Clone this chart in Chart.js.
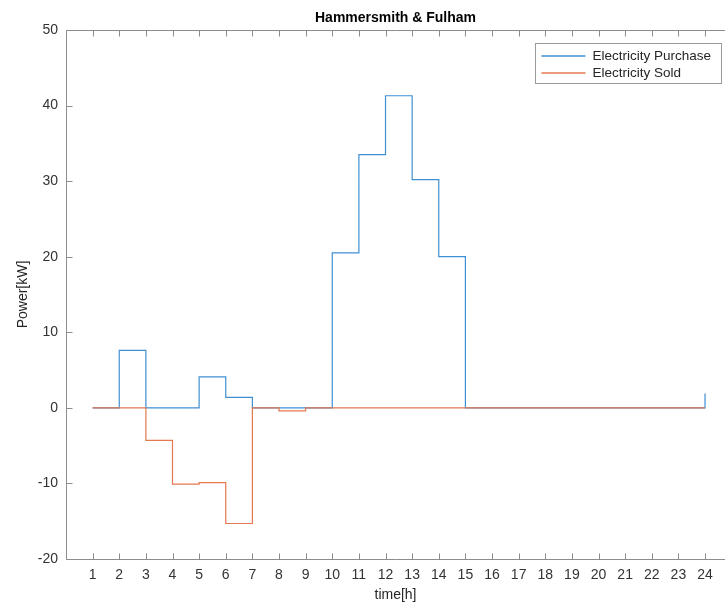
<!DOCTYPE html>
<html>
<head>
<meta charset="utf-8">
<script src="https://cdn.jsdelivr.net/npm/chart.js@4.4.1/dist/chart.umd.min.js"></script>
<style>
  html, body { margin: 0; padding: 0; background: #ffffff; }
  #wrap { width: 725px; height: 605px; }
</style>
</head>
<body>
<div id="wrap"><canvas id="c" width="725" height="605"></canvas></div>
<script>
// ---- data ----
const hours = [1, 2, 3, 4, 5, 6, 7, 8, 9, 10, 11, 12, 13, 14, 15, 16, 17, 18, 19, 20, 21, 22, 23, 24];
const electricityPurchase = [0, 7.6, 0, 0, 4.1, 1.4, 0, 0, 0, 20.5, 33.5, 41.3, 30.2, 20.0, 0, 0, 0, 0, 0, 0, 0, 0, 0, 1.9];
const electricitySold = [0, 0, -4.3, -10.1, -9.9, -15.3, 0, -0.4, 0, 0, 0, 0, 0, 0, 0, 0, 0, 0, 0, 0, 0, 0, 0, 0];
const yTickValues = [-20, -10, 0, 10, 20, 30, 40, 50];
const seriesNames = ['Electricity Purchase', 'Electricity Sold'];
const chartTitle = 'Hammersmith & Fulham';
const xTitle = 'time[h]';
const yTitle = 'Power[kW]';

const BLUE = '#3f90d3';
const ORANGE = '#e4784f';
const FONT = "'Liberation Sans', Arial, Helvetica, sans-serif";

const matlabAxes = {
  id: 'matlabAxes',
  afterDraw(chart) {
    const { ctx, chartArea: a, scales } = chart;
    const x = scales.x, y = scales.y;
    ctx.save();
    ctx.strokeStyle = '#8c8c8c';
    ctx.lineWidth = 1;
    const L = Math.round(a.left) + 0.5;
    const T = Math.round(a.top) + 0.5;
    const B = Math.round(a.bottom) + 0.5;
    const R = a.right;
    ctx.beginPath();
    ctx.moveTo(R, T); ctx.lineTo(L, T); ctx.lineTo(L, B); ctx.lineTo(R, B);
    hours.forEach(v => {
      const px = Math.round(x.getPixelForValue(v)) + 0.5;
      ctx.moveTo(px, B); ctx.lineTo(px, B - 6);
      ctx.moveTo(px, T); ctx.lineTo(px, T + 6);
    });
    yTickValues.forEach(v => {
      const py = Math.round(y.getPixelForValue(v)) + 0.5;
      ctx.moveTo(L, py); ctx.lineTo(L + 6, py);
    });
    ctx.stroke();

    // legend box (MATLAB style, upper right)
    const bw = 186, bh = 40;
    const bx = Math.round(a.right - 190) + 0.5;
    const by = Math.round(a.top + 13) + 0.5;
    ctx.fillStyle = '#ffffff';
    ctx.fillRect(bx, by, bw, bh);
    ctx.strokeStyle = '#9a9a9a';
    ctx.strokeRect(bx, by, bw, bh);
    const colors = [BLUE, ORANGE];
    ctx.font = '13.5px ' + FONT;
    ctx.textBaseline = 'middle';
    ctx.textAlign = 'left';
    seriesNames.forEach((name, i) => {
      const ly = Math.round(by + 12 + i * 17.5);
      ctx.strokeStyle = colors[i];
      ctx.lineWidth = 1.3;
      ctx.beginPath();
      ctx.moveTo(bx + 6, ly); ctx.lineTo(bx + 50, ly);
      ctx.stroke();
      ctx.fillStyle = '#262626';
      ctx.fillText(name, bx + 57, ly);
    });
    ctx.restore();
  }
};

new Chart(document.getElementById('c'), {
  type: 'line',
  data: {
    datasets: [
      {
        label: seriesNames[1],
        data: hours.map((h, i) => ({ x: h, y: electricitySold[i] })),
        borderColor: ORANGE,
        borderWidth: 1.2,
        stepped: 'before',
        pointRadius: 0,
        fill: false,
        order: 0
      },
      {
        label: seriesNames[0],
        data: hours.map((h, i) => ({ x: h, y: electricityPurchase[i] })),
        borderColor: BLUE,
        borderWidth: 1.2,
        stepped: 'before',
        pointRadius: 0,
        fill: false,
        order: 1
      }
    ]
  },
  options: {
    responsive: false,
    devicePixelRatio: 1,
    animation: false,
    layout: { padding: { top: 0, right: 0, bottom: 0, left: 0 } },
    plugins: {
      legend: { display: false },
      tooltip: { enabled: false },
      title: {
        display: true,
        fullSize: false,
        text: chartTitle,
        color: '#000000',
        font: { family: FONT, size: 14, weight: 'bold', lineHeight: 1.2 },
        padding: { top: 9.5, bottom: 3.7 }
      }
    },
    scales: {
      x: {
        type: 'linear',
        min: 0,
        max: 24.75,
        grid: { display: false, drawTicks: false },
        border: { display: false },
        afterBuildTicks: s => { s.ticks = hours.map(v => ({ value: v })); },
        afterFit: s => { s.height = 46; },
        ticks: {
          autoSkip: false,
          maxRotation: 0,
          padding: 8,
          color: '#333333',
          font: { family: FONT, size: 14 },
          callback: v => String(v)
        },
        title: {
          display: true,
          text: xTitle,
          color: '#262626',
          font: { family: FONT, size: 14 },
          padding: { top: 0, bottom: 1 }
        }
      },
      y: {
        type: 'linear',
        min: -20,
        max: 50,
        grid: { display: false, drawTicks: false },
        border: { display: false },
        afterBuildTicks: s => { s.ticks = yTickValues.map(v => ({ value: v })); },
        afterFit: s => { s.width = 66; },
        ticks: {
          padding: 8,
          color: '#333333',
          font: { family: FONT, size: 14 },
          callback: v => String(v)
        },
        title: {
          display: true,
          text: yTitle,
          color: '#262626',
          font: { family: FONT, size: 14 },
          padding: { top: 15, bottom: 0 }
        }
      }
    }
  },
  plugins: [matlabAxes]
});
</script>
</body>
</html>
